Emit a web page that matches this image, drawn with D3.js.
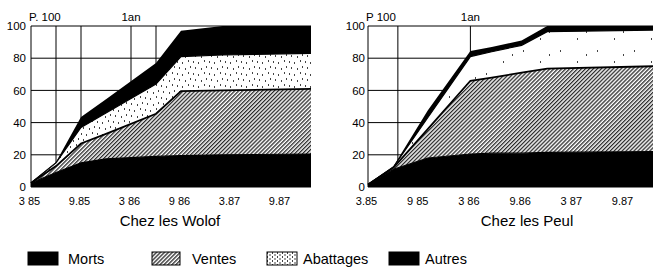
<!DOCTYPE html>
<html>
<head>
<meta charset="utf-8">
<script src="https://cdn.jsdelivr.net/npm/d3@7"></script>
<style>
body { margin: 0; background: #fff; }
svg { display: block; font-family: "Liberation Sans", Arial, Helvetica, sans-serif; }
</style>
</head>
<body>
<svg id="chart" width="653" height="270"></svg>
<script>
// categories
var series = ["Morts", "Ventes", "Abattages", "Autres"];
var yTicks = [0, 20, 40, 60, 80, 100];
var monthTicks = [0, 6, 12, 18, 24, 30];

// Wolof (months since 3.85, share of each outcome, p. 100)
var wolofMonths = [0, 3, 6, 9, 15, 18, 23, 33.6];
var wolofMorts = [2.5, 9, 15, 17.5, 19, 19.5, 20, 20.5];
var wolofVentes = [0, 4, 12, 15.5, 26.5, 40, 40, 40.5];
var wolofAbattages = [0, 2, 10, 13, 18.5, 21.5, 22, 22];
var wolofAutres = [0.5, 0.5, 6.5, 8.5, 13, 16, 18, 17];
var wolofTickLabels = ["3 85", "9.85", "3 86", "9 86", "3.87", "9.87"];
var wolofGrid = [3, 6, 12, 15];

// Peul
var peulMonths = [0, 3, 7, 12, 14.5, 18, 21, 33.4];
var peulMorts = [1.5, 11, 18, 20.5, 21, 21, 21.5, 22];
var peulVentes = [0, 1, 18, 45.5, 47, 50, 52, 53];
var peulAbattages = [0, 0.5, 7, 15, 16, 17, 23, 22.5];
var peulAutres = [0.5, 0.5, 4.5, 3.5, 3, 3, 3.5, 2.5];
var peulTickLabels = ["3.85", "9 85", "3 86", "9.86", "3 87", "9.87"];
var peulGrid = [3.5, 12];

var svg = d3.select("#chart");
var defs = svg.append("defs");

// hatching for Ventes
var hatch = defs.append("pattern")
    .attr("id", "hatch")
    .attr("patternUnits", "userSpaceOnUse")
    .attr("width", 2.8).attr("height", 2.8)
    .attr("patternTransform", "rotate(45)");
hatch.append("rect").attr("width", 2.8).attr("height", 2.8).attr("fill", "#fff");
hatch.append("line")
    .attr("x1", 0.7).attr("y1", 0).attr("x2", 0.7).attr("y2", 2.8)
    .attr("stroke", "#000").attr("stroke-width", 1.1);

// stipple for Abattages (Wolof, Peul, legend)
function dots(id, w, h, pts) {
  var p = defs.append("pattern")
      .attr("id", id)
      .attr("patternUnits", "userSpaceOnUse")
      .attr("width", w).attr("height", h);
  p.append("rect").attr("width", w).attr("height", h).attr("fill", "#fff");
  pts.forEach(function(d) {
    p.append("rect").attr("x", d[0]).attr("y", d[1])
        .attr("width", 1).attr("height", 2).attr("fill", "#444");
  });
}
dots("dotsW", 16, 12, [[1, 1], [6, 2], [12, 0], [3, 7], [9, 8], [14, 6]]);
dots("dotsP", 37, 23, [[5, 4], [22, 15], [31, 8]]);
dots("dotsL", 5, 4, [[0, 0], [2.5, 2]]);

var y = d3.scaleLinear().domain([0, 100]).range([187, 26]);

function drawPanel(cfg) {
  var n = cfg.months.length;
  var x = d3.scaleLinear().domain([0, cfg.months[n - 1]]).range([cfg.x0, cfg.x1]);
  var g = svg.append("g");

  var rows = cfg.months.map(function(m, i) {
    var r = { m: m };
    series.forEach(function(s, k) { r[s] = cfg.values[k][i]; });
    return r;
  });
  var stacked = d3.stack().keys(series)(rows);

  // grid
  g.append("g").selectAll("line")
    .data(yTicks.slice(1, -1))
    .enter().append("line")
    .attr("x1", cfg.x0).attr("x2", cfg.x1)
    .attr("y1", function(d) { return y(d); })
    .attr("y2", function(d) { return y(d); })
    .attr("stroke", "#000").attr("stroke-width", 1);
  g.append("g").selectAll("line")
    .data(cfg.grid)
    .enter().append("line")
    .attr("x1", function(d) { return x(d); })
    .attr("x2", function(d) { return x(d); })
    .attr("y1", y(100)).attr("y2", y(0))
    .attr("stroke", "#000").attr("stroke-width", 1);

  var fills = ["#000", "url(#hatch)", "url(#" + cfg.dots + ")", "#000"];
  var area = d3.area()
    .x(function(d) { return x(d.data.m); })
    .y0(function(d) { return y(d[0]); })
    .y1(function(d) { return y(d[1]); });

  g.append("g").selectAll("path")
    .data(stacked)
    .enter().append("path")
    .attr("d", area)
    .attr("fill", function(d, i) { return fills[i]; });

  var line = d3.line()
    .x(function(d) { return x(d.data.m); })
    .y(function(d) { return y(d[1]); });
  g.append("g").selectAll("path")
    .data(stacked.slice(0, 3))
    .enter().append("path")
    .attr("d", line)
    .attr("fill", "none")
    .attr("stroke", "#000")
    .attr("stroke-width", function(d, i) { return i == 1 ? 1.8 : 1.2; });

  // frame
  g.append("path")
    .attr("d", "M" + cfg.x1 + "," + y(100) + "H" + cfg.x0 + "V" + y(0) + "H" + cfg.x1)
    .attr("fill", "none").attr("stroke", "#000").attr("stroke-width", 1);

  // axes
  var xAxis = d3.axisBottom(x)
    .tickValues(monthTicks)
    .tickSize(0).tickPadding(10)
    .tickFormat(function(d, i) { return cfg.tickLabels[i]; });
  g.append("g")
    .attr("transform", "translate(0," + y(0) + ")")
    .call(xAxis)
    .call(function(a) { a.select(".domain").remove(); })
    .selectAll("text")
    .attr("dx", -2)
    .attr("font-size", 11).attr("font-family", null).attr("fill", "#000");

  var yAxis = d3.axisLeft(y).tickValues(yTicks).tickSize(0).tickPadding(cfg.yPad);
  g.append("g")
    .attr("transform", "translate(" + cfg.x0 + ",0)")
    .call(yAxis)
    .call(function(a) { a.select(".domain").remove(); })
    .selectAll("text")
    .attr("font-size", 11.5).attr("font-family", null).attr("fill", "#000");

  g.append("text")
    .attr("x", cfg.x0 - 2).attr("y", 21)
    .attr("font-size", 11.5)
    .text(cfg.pLabel);
  g.append("text")
    .attr("x", x(12)).attr("y", 21)
    .attr("text-anchor", "middle")
    .attr("font-size", 11.5)
    .text("1an");

  g.append("text")
    .attr("x", cfg.titleX).attr("y", 226)
    .attr("text-anchor", "middle")
    .attr("font-size", 15)
    .text(cfg.title);
}

drawPanel({
  months: wolofMonths,
  values: [wolofMorts, wolofVentes, wolofAbattages, wolofAutres],
  x0: 31, x1: 311, grid: wolofGrid, tickLabels: wolofTickLabels,
  dots: "dotsW", yPad: 5, pLabel: "P. 100",
  title: "Chez les Wolof", titleX: 170
});
drawPanel({
  months: peulMonths,
  values: [peulMorts, peulVentes, peulAbattages, peulAutres],
  x0: 368, x1: 653, grid: peulGrid, tickLabels: peulTickLabels,
  dots: "dotsP", yPad: 3, pLabel: "P  100",
  title: "Chez les Peul", titleX: 527
});

// legend
var legendX = [28, 152, 267, 389];
var legendFill = ["#000", "url(#hatch)", "url(#dotsL)", "#000"];
var legend = svg.append("g").selectAll("g")
  .data(series)
  .enter().append("g")
  .attr("transform", function(d, i) { return "translate(" + legendX[i] + ",252)"; });
legend.append("rect")
  .attr("width", function(d, i) { return i == 1 ? 28 : 30; })
  .attr("height", 13)
  .attr("fill", function(d, i) { return legendFill[i]; })
  .attr("stroke", "#000").attr("stroke-width", 1);
legend.append("text")
  .attr("x", function(d, i) { return [40, 40, 36, 36][i]; })
  .attr("y", 11.5)
  .attr("font-size", 14.5)
  .text(function(d) { return d; });
</script>
</body>
</html>
